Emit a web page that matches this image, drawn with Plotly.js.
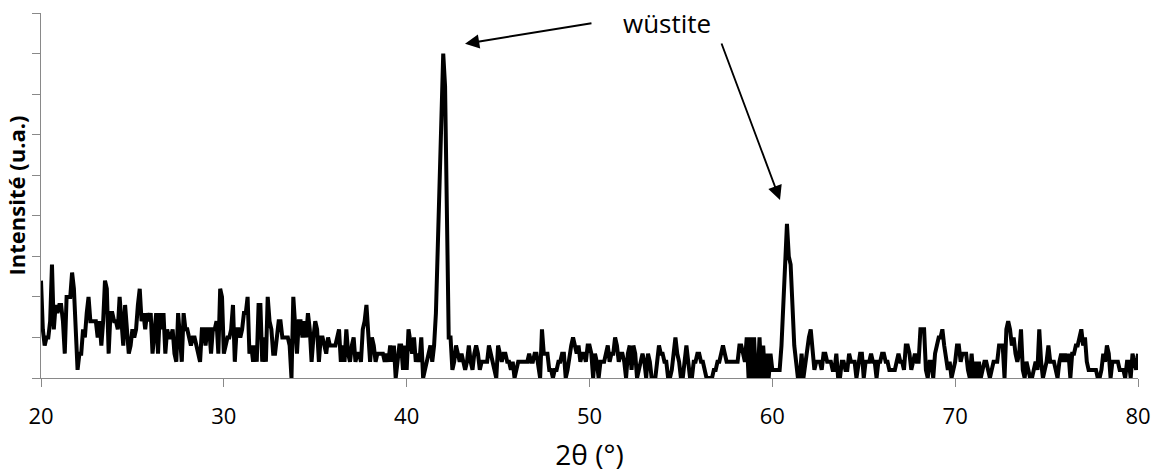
<!DOCTYPE html>
<html>
<head>
<meta charset="utf-8">
<script src="https://cdn.plot.ly/plotly-3.0.1.min.js"></script>
<style>html,body{margin:0;padding:0;background:#fff;}#chart{width:1157px;height:475px;}</style>
</head>
<body>
<div id="chart"></div>
<script>
// 2θ grid: start and step of the measurement (degrees)
const thetaStart = 20;
const thetaStep = 0.1;

// Intensity (arbitrary units, counts), 10° per array
const int20to30 = [12,6,4,5,5,7,14,6,9,8, 9,9,7,3,10,10,10,13,11,6, 1,3,3,6,5,8,10,7,7,7, 7,5,7,4,7,12,11,3,8,8, 7,7,6,10,6,4,9,6,3,4, 6,5,6,9,11,7,8,6,8,7, 8,3,5,8,3,8,6,8,3,6, 5,5,6,3,2,8,5,2,8,6, 6,5,4,5,5,4,3,2,6,6, 4,6,6,3,6,6,7,3,11,10];
const int30to40 = [3,4,5,5,6,9,2,6,6,5, 6,8,8,10,3,4,2,4,2,9, 9,2,5,2,10,7,6,3,3,5, 7,7,5,5,5,5,4,0,10,6, 3,7,7,5,7,5,8,6,2,5, 7,6,2,5,5,4,3,5,4,4, 4,4,5,6,2,4,2,6,3,2, 4,5,2,3,3,2,6,7,9,6, 2,5,4,2,3,3,3,3,2,3, 2,4,2,4,0,2,4,4,1,4];
const int40to50 = [1,6,4,3,5,2,3,2,5,0, 1,2,3,4,2,4,8,17,25,33, 40,36,20,5,5,1,2,4,3,2, 3,2,1,2,4,2,1,3,4,3, 1,2,2,2,2,4,3,2,1,0, 4,3,2,3,3,2,2,1,2,0, 1,2,2,2,2,2,2,3,2,2, 3,3,1,0,6,3,3,3,1,1, 0,1,1,2,2,3,3,0,1,3, 4,5,4,3,4,2,3,3,2,4];
const int50to60 = [4,3,0,3,2,0,2,2,2,3, 4,2,3,3,5,4,2,3,3,2, 0,3,4,1,4,3,0,1,2,3, 2,0,3,2,0,0,0,2,4,3, 3,2,2,0,0,1,3,5,3,2, 0,0,2,4,2,0,0,2,2,3, 3,2,2,1,0,0,0,0,1,1, 2,2,3,4,3,2,2,2,2,2, 2,2,4,4,3,2,5,0,5,0, 5,0,0,5,0,4,0,3,0,3];
const int60to70 = [1,1,1,1,1,4,9,14,19,15, 14,9,4,2,0,0,3,0,2,3, 5,6,3,1,2,2,2,1,3,3, 2,2,2,1,1,3,0,0,2,2, 1,1,3,2,2,2,0,2,3,3, 0,2,2,2,3,2,2,0,2,2, 3,3,2,2,1,1,1,1,2,3, 2,2,1,4,4,3,1,2,3,2, 2,6,6,6,1,0,2,2,0,3, 4,5,5,6,4,2,1,2,0,1];
const int70to80 = [2,4,4,2,3,3,3,1,0,3, 0,2,0,2,0,1,2,2,1,0, 1,2,2,2,4,4,4,0,6,7, 6,4,5,3,2,3,6,1,0,2, 1,0,0,1,2,1,6,2,0,1, 2,4,2,2,2,1,0,2,3,2, 3,2,3,0,3,3,4,4,5,6, 4,5,2,1,1,1,1,1,0,0, 1,3,2,4,3,0,2,2,2,2, 1,1,1,0,2,2,0,3,2,1, 3];

// Axis ticks
const xTicks = [20, 30, 40, 50, 60, 70, 80];
const xTickLabels = ['20', '30', '40', '50', '60', '70', '80'];
const yTicks = [0, 5, 10, 15, 20, 25, 30, 35, 40, 45];

// Texts
const xTitle = '2θ (°)';
const yTitle = 'Intensité (u.a.)';
const peakLabel = 'wüstite';

const intensity = [].concat(int20to30, int30to40, int40to50, int50to60, int60to70, int70to80);
const twoTheta = intensity.map((_, i) => +(thetaStart + i * thetaStep).toFixed(1));

const axisGrey = '#898989';
const font = 'Open Sans, Noto Sans, DejaVu Sans, sans-serif';

const trace = {
  type: 'scatter',
  mode: 'lines',
  x: twoTheta,
  y: intensity,
  line: {color: '#000000', width: 4},
  hoverinfo: 'skip',
  showlegend: false
};

const layout = {
  width: 1157,
  height: 475,
  margin: {l: 41, r: 19, t: 13, b: 97},
  paper_bgcolor: '#ffffff',
  plot_bgcolor: '#ffffff',
  font: {family: font, color: '#000000'},
  showlegend: false,
  xaxis: {
    range: [20, 80],
    tickvals: xTicks,
    ticktext: xTickLabels,
    ticks: 'outside',
    ticklen: 8,
    tickwidth: 1,
    tickcolor: axisGrey,
    showline: true,
    linecolor: axisGrey,
    linewidth: 1,
    showgrid: false,
    zeroline: false,
    tickfont: {family: font, size: 22, color: '#000000'},
    ticklabelstandoff: 11,
    title: {text: xTitle, font: {family: font, size: 28, color: '#000000'}, standoff: 15},
    automargin: false,
    fixedrange: true
  },
  yaxis: {
    range: [0, 45],
    tickvals: yTicks,
    showticklabels: false,
    ticks: 'outside',
    ticklen: 8,
    tickwidth: 1,
    tickcolor: axisGrey,
    showline: true,
    linecolor: axisGrey,
    linewidth: 1,
    showgrid: false,
    zeroline: false,
    title: {text: yTitle, font: {family: font, size: 22, weight: 'bold', color: '#000000'}, standoff: 0},
    automargin: false,
    fixedrange: true
  },
  annotations: [
    {
      xref: 'x', yref: 'y', x: 54.25, y: 43.8,
      text: peakLabel, showarrow: false,
      font: {family: font, size: 26, color: '#000000'},
      xanchor: 'center', yanchor: 'middle'
    },
    {
      xref: 'x', yref: 'y', axref: 'x', ayref: 'y',
      x: 43.19, y: 41.2, ax: 50.19, ay: 43.77,
      text: '', showarrow: true, arrowhead: 2, arrowsize: 1.5, arrowwidth: 1.9,
      arrowcolor: '#000000', standoff: 0, startstandoff: 0
    },
    {
      xref: 'x', yref: 'y', axref: 'x', ayref: 'y',
      x: 60.42, y: 21.95, ax: 57.19, ay: 41.43,
      text: '', showarrow: true, arrowhead: 2, arrowsize: 1.5, arrowwidth: 1.9,
      arrowcolor: '#000000', standoff: 0, startstandoff: 0
    }
  ]
};

Plotly.newPlot('chart', [trace], layout, {displayModeBar: false, staticPlot: true});
</script>
</body>
</html>
